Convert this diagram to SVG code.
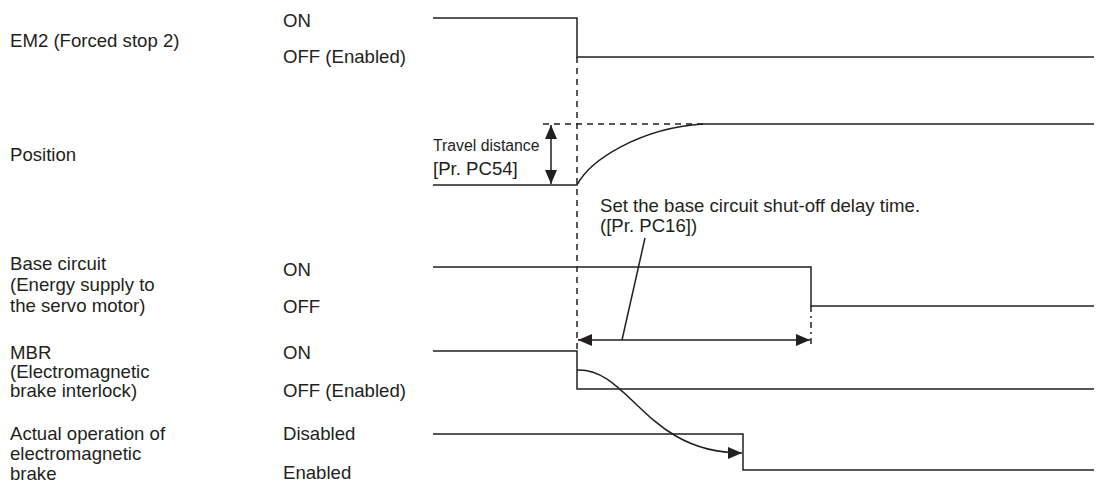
<svg xmlns="http://www.w3.org/2000/svg" width="1104" height="488" viewBox="0 0 1104 488">
<defs>
<style>
text{font-family:"Liberation Sans",Arial,sans-serif;font-size:18.6px;fill:#231f20}
.sm{font-size:15.8px}
.ln{fill:none;stroke:#231f20;stroke-width:1.5}
.dash{fill:none;stroke:#231f20;stroke-width:1.5;stroke-dasharray:6 5}
.dd{fill:none;stroke:#231f20;stroke-width:1.5;stroke-dasharray:6 4 2 4}
</style>
<marker id="ah" viewBox="0 0 14 12" refX="14" refY="6" markerWidth="14" markerHeight="12" markerUnits="userSpaceOnUse" orient="auto-start-reverse">
<path d="M0,0 L14,6 L0,12 Z" fill="#231f20"/>
</marker>
</defs>
<rect width="1104" height="488" fill="#fff"/>
<g id="labels">
<text x="10" y="47">EM2 (Forced stop 2)</text>
<text x="283" y="27">ON</text>
<text x="283" y="63">OFF (Enabled)</text>
<text x="10" y="161">Position</text>
<text x="10" y="270">Base circuit</text>
<text x="10" y="291">(Energy supply to</text>
<text x="10" y="312">the servo motor)</text>
<text x="283" y="276">ON</text>
<text x="283" y="313">OFF</text>
<text x="10" y="359">MBR</text>
<text x="10" y="378">(Electromagnetic</text>
<text x="10" y="397">brake interlock)</text>
<text x="283" y="359">ON</text>
<text x="283" y="397">OFF (Enabled)</text>
<text x="10" y="440">Actual operation of</text>
<text x="10" y="460">electromagnetic</text>
<text x="10" y="480">brake</text>
<text x="283" y="440">Disabled</text>
<text x="283" y="479">Enabled</text>
</g>
<g id="em2">
<path class="ln" d="M433,18 H577 V57 H1094"/>
</g>
<g id="position">
<path class="ln" d="M433,185 H577 C590,160 640,128 703,124 H1094"/>
<text class="sm" x="433" y="151">Travel distance</text>
<text x="433" y="175">[Pr. PC54]</text>
</g>
<g id="base-circuit">
<path class="ln" d="M433,267 H811 V306 H1094"/>
</g>
<g id="mbr">
<path class="ln" d="M433,351 H577 V389 H1094"/>
</g>
<g id="brake">
<path class="ln" d="M433,434 H743 V470 H1094"/>
</g>
<g id="annotation">
<text x="600" y="212">Set the base circuit shut-off delay time.</text>
<text x="600" y="232">([Pr. PC16])</text>
</g>
<g id="connectors">
<path class="dash" d="M577,57 V351"/>
<path class="dash" d="M543,124 H703"/>
<path class="dd" d="M811,306 V346"/>
<path class="ln" d="M551,125 V184" marker-start="url(#ah)" marker-end="url(#ah)"/>
<path class="ln" d="M578,340 H810" marker-start="url(#ah)" marker-end="url(#ah)"/>
<path class="ln" d="M622,340 L645,238"/>
<path class="ln" d="M577,370 C630,368 645,453 742,453" marker-end="url(#ah)"/>
</g>
</svg>
